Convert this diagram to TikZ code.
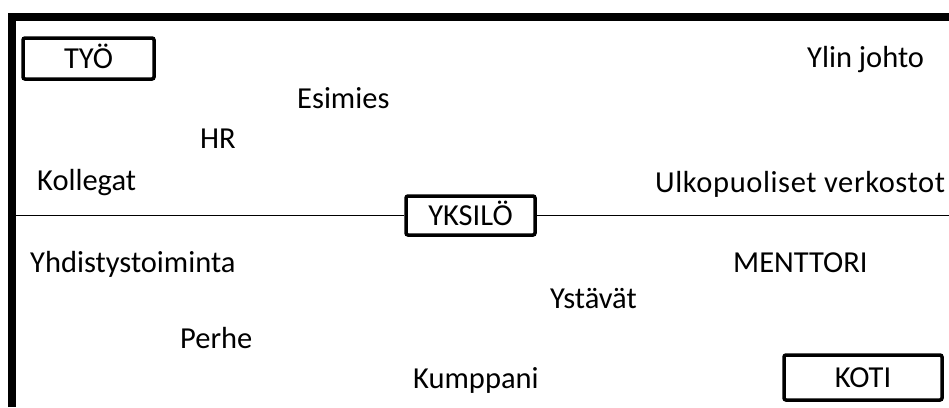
\documentclass[tikz,border=0pt]{standalone}
\usepackage{fontspec}
\setmainfont{Carlito}
\begin{document}
\begin{tikzpicture}[x=1pt,y=-1pt,
  lbl/.style={inner sep=0pt, anchor=base west, font=\fontsize{30.5}{36}\selectfont},
  boxed/.style={draw, line width=3.5pt, rounded corners=2pt, fill=white,
    inner sep=0pt, text height=19pt, text depth=0pt,
    font=\fontsize{30.5}{36}\selectfont},
  frame/.style={line width=8pt, line join=miter},
  axis/.style={line width=1.5pt}]
\useasboundingbox (0,0) rectangle (949,407);
% frame
\coordinate (fb) at (11.5,407);
\coordinate (fc) at (11.5,16.5);
\coordinate (fr) at (949,16.5);
\draw[frame] (fb) -- (fc) -- (fr);
% axis
\coordinate (al) at (15,215.5);
\coordinate (ar) at (949,215.5);
\node[boxed, minimum width=129pt, minimum height=39pt] (yksilo) at (470.5,215.5) {YKSILÖ};
\draw[axis] (al) -- (yksilo.west);
\draw[axis] (yksilo.east) -- (ar);
% corner boxes
\node[boxed, minimum width=131pt, minimum height=41pt] (tyo) at (88.5,58.5) {TYÖ};
\node[boxed, minimum width=158pt, minimum height=45pt] (koti) at (863,377.5) {KOTI};
% labels
\node[lbl] (ylin) at (807,67) {Ylin johto};
\node[lbl] (esimies) at (297,108) {Esimies};
\node[lbl] (hr) at (200,148) {HR};
\node[lbl] (kollegat) at (37,190) {Kollegat};
\node[lbl] (ulko) at (655,192) {\addfontfeature{LetterSpace=2}Ulkopuoliset verkostot};
\node[lbl] (yhdistys) at (30,272) {Yhdistystoiminta};
\node[lbl] (mentor) at (733,272) {MENTTORI};
\node[lbl] (ystavat) at (550,308) {Ystävät};
\node[lbl] (perhe) at (180,348) {Perhe};
\node[lbl] (kumppani) at (413,388) {Kumppani};
\end{tikzpicture}
\end{document}
